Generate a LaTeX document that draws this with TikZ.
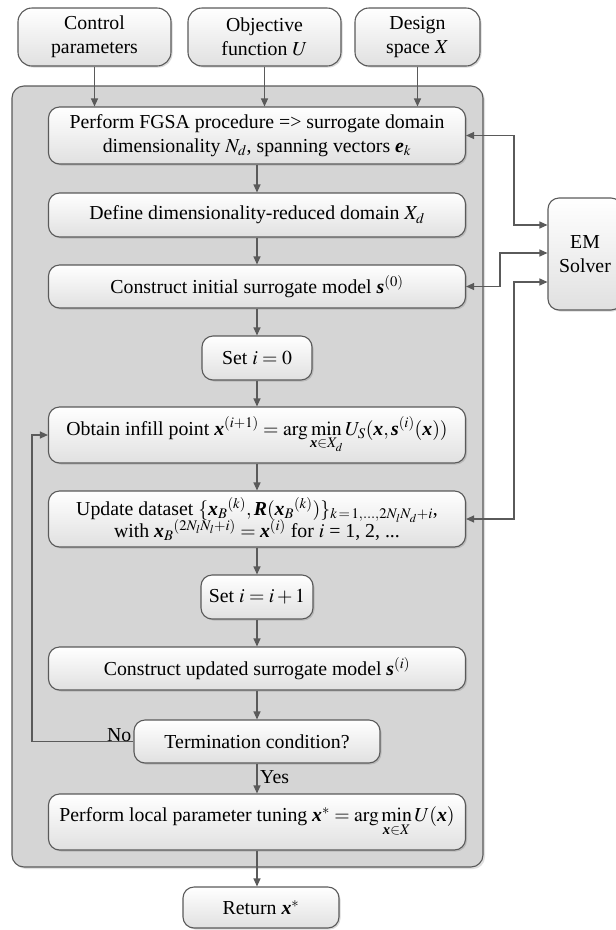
\documentclass[tikz,border=0pt]{standalone}
\usepackage{amsmath}
\usepackage{mathptmx}
\usepackage{fontspec}
\setmainfont{Liberation Serif}
\usetikzlibrary{shadows,arrows.meta,calc}
\definecolor{linec}{HTML}{5A5A5A}
\definecolor{panelc}{HTML}{D5D5D5}
\newcommand{\bx}{\text{\bfseries\itshape x}}
\newcommand{\bR}{\text{\bfseries\itshape R}}
\newcommand{\bs}{\text{\bfseries\itshape s}}
\newcommand{\be}{\text{\bfseries\itshape e}}
\newcommand{\fs}{\fontsize{19.8}{24}\selectfont}
\begin{document}
\begin{tikzpicture}[x=1pt,y=-1pt,
  box/.style={draw=linec, line width=1.1pt, rounded corners=11pt,
    top color=white, bottom color=black!12, align=center, inner sep=2pt, font=\fs,
    drop shadow={shadow xshift=1.5pt, shadow yshift=-1.5pt, opacity=0.25, fill=black!60}},
  arr/.style={draw=linec, line width=1.2pt, -{Triangle[length=8pt,width=7pt]}},
  arrb/.style={draw=linec, line width=1.2pt, {Triangle[length=8pt,width=7pt]}-{Triangle[length=8pt,width=7pt]}},
  lbl/.style={font=\fs, inner sep=1pt}]
\useasboundingbox (0,0) rectangle (616,930);
% panel
\node[draw=linec, line width=1.1pt, fill=panelc, rounded corners=12pt,
  minimum width=471pt, minimum height=781pt, inner sep=0pt,
  drop shadow={shadow xshift=2pt, shadow yshift=-2pt, opacity=0.2, fill=black!60}] (panel) at (247.5,476.5) {};
% inputs
\node[box, rounded corners=14pt, minimum width=153pt, minimum height=58pt] (ctrl) at (94.5,37) {Control\\parameters};
\node[box, rounded corners=14pt, minimum width=153pt, minimum height=58pt] (obj) at (264.5,37) {Objective\\function $U$};
\node[box, rounded corners=14pt, minimum width=125pt, minimum height=58pt] (des) at (417.5,37) {Design\\space $X$};
% main column
\node[box, minimum width=417pt, minimum height=57pt] (fgsa) at (257,135.5) {Perform FGSA procedure => surrogate domain\\dimensionality $N_d$, spanning vectors $\be_k$};
\node[box, minimum width=417pt, minimum height=44pt] (define) at (257,215) {Define dimensionality-reduced domain $X_d$};
\node[box, minimum width=417pt, minimum height=43pt] (init) at (257,286.5) {Construct initial surrogate model $\bs^{(0)}$};
\node[box, minimum width=110pt, minimum height=44pt] (set0) at (257,358) {Set $i = 0$};
\node[box, minimum width=417pt, minimum height=56pt] (obtain) at (257,435) {Obtain infill point $\bx^{(i+1)} = \arg\min\limits_{\bx\in X_d} U_S(\bx,\bs^{(i)}(\bx))$};
\node[box, minimum width=417pt, minimum height=56pt, inner sep=1pt] (update) at (257,519) {Update dataset $\{\bx_B{}^{(k)},\bR(\bx_B{}^{(k)})\}_{k\,=\,1,\ldots,2N_lN_d+i}$,\\[-4pt]with $\bx_B{}^{(2N_lN_l+i)} = \bx^{(i)}$ for $i$ = 1, 2, ...};
\node[box, minimum width=112pt, minimum height=44pt] (set1) at (257,597) {Set $i = i + 1$};
\node[box, minimum width=417pt, minimum height=43pt] (updated) at (257,668.5) {Construct updated surrogate model $\bs^{(i)}$};
\node[box, minimum width=246pt, minimum height=43pt] (term) at (257,741.5) {Termination condition?};
\node[box, minimum width=417pt, minimum height=56pt] (local) at (257,822) {Perform local parameter tuning $\bx^{*} = \arg\min\limits_{\bx\in X} U(\bx)$};
\node[box, minimum width=156pt, minimum height=41pt] (ret) at (261,907.5) {Return $\bx^{*}$};
\node[box, minimum width=74pt, minimum height=112pt] (em) at (585,254) {EM\\Solver};
% input arrows
\draw[arr] (ctrl.south) -- (ctrl.south |- fgsa.north);
\draw[arr] (obj.south) -- (obj.south |- fgsa.north);
\draw[arr] (des.south) -- (des.south |- fgsa.north);
% main flow
\draw[arr] (fgsa.south) -- (define.north);
\draw[arr] (define.south) -- (init.north);
\draw[arr] (init.south) -- (set0.north);
\draw[arr] (set0.south) -- (obtain.north);
\draw[arr] (obtain.south) -- (update.north);
\draw[arr] (update.south) -- (set1.north);
\draw[arr] (set1.south) -- (updated.north);
\draw[arr] (updated.south) -- (term.north);
\draw[arr] (term.south) -- (local.north);
\draw[arr] (local.south) -- (local.south |- ret.north);
% loop
\coordinate (lp) at (32,741.5);
\draw[arr] (term.west) -- (lp) |- (obtain.west);
\node[lbl, anchor=south east] (no) at ($(term.west)+(-1,1)$) {No};
\node[lbl, anchor=west] (yes) at (259,777) {Yes};
% EM solver links
\draw[arrb] (fgsa.east) -- ++(48,0) |- ([yshift=29pt]em.west);
\draw[arrb] (init.east) -- ++(34,0) |- ([yshift=1pt]em.west);
\draw[arrb] (update.east) -- ++(48,0) |- ([yshift=-28pt]em.west);
\end{tikzpicture}
\end{document}
